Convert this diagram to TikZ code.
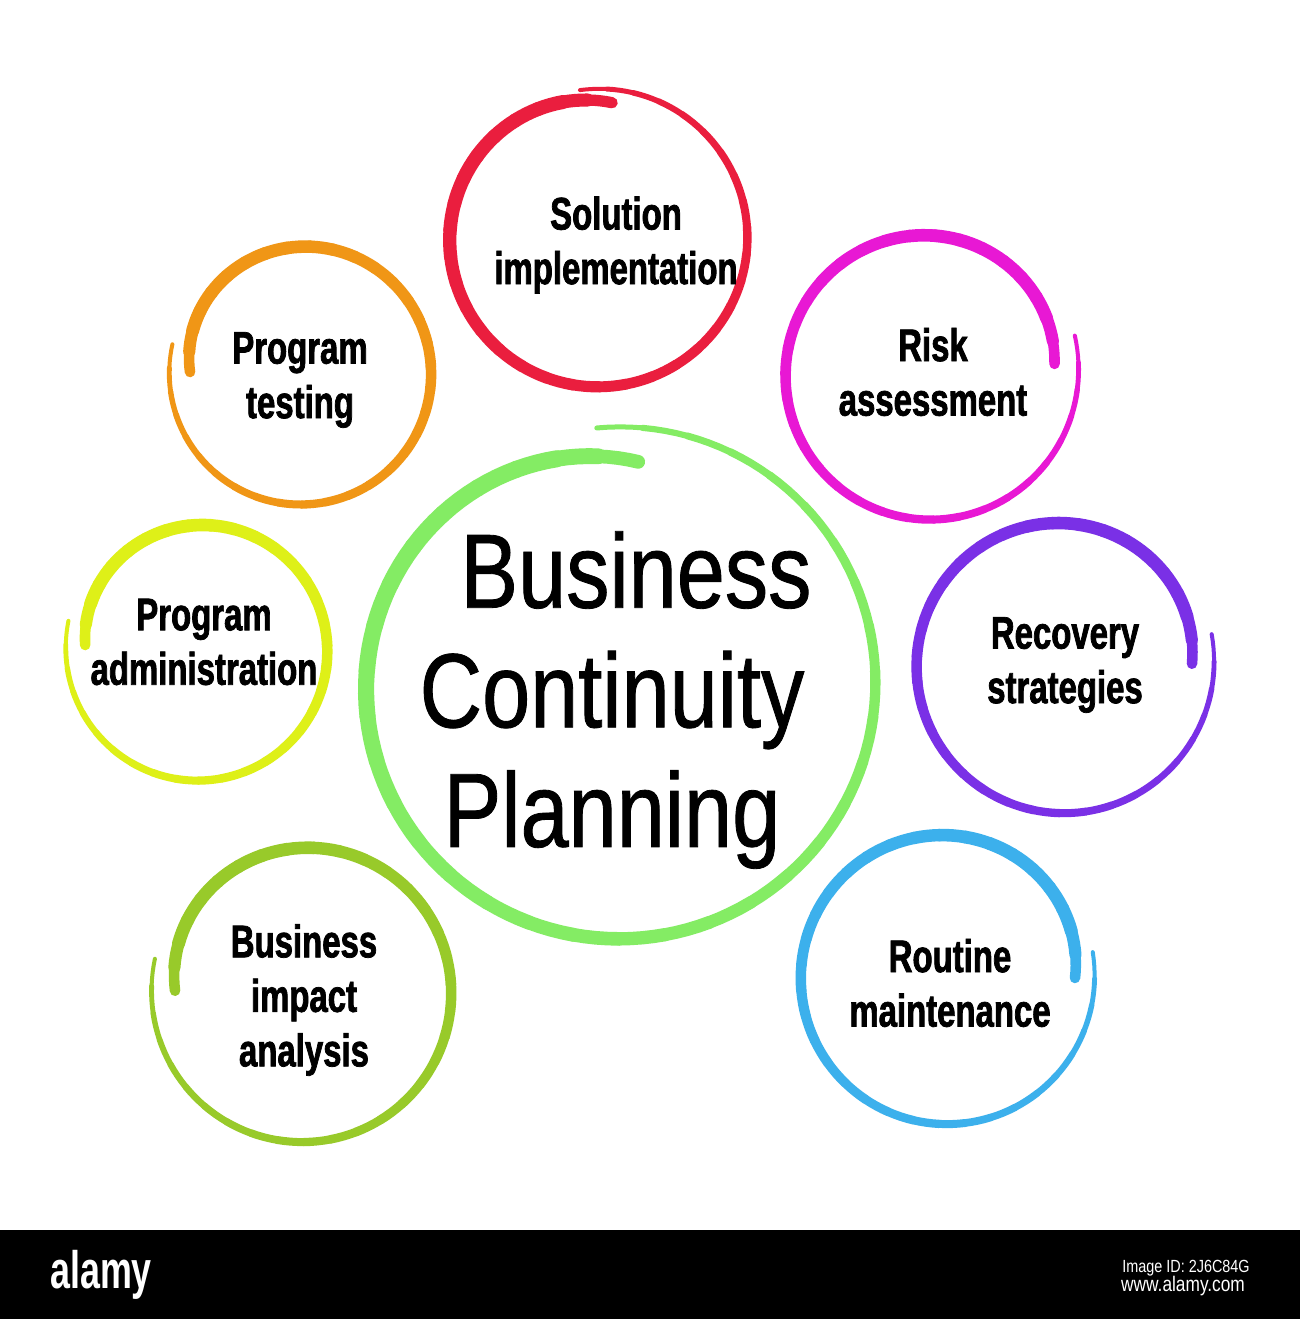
\documentclass[tikz,border=0pt]{standalone}
\usepackage{fontspec}
\setmainfont{Liberation Sans}
\newfontfamily\labelfont{Liberation Sans}[FakeStretch=0.72,FakeBold=1.6]
\newfontfamily\titlefont{Liberation Sans}[FakeStretch=0.82,FakeBold=0.8]
\newfontfamily\markfont{Liberation Sans}[FakeStretch=0.68]
\newfontfamily\smallfont{Liberation Sans}[FakeStretch=0.82]
\definecolor{ringgreen}{RGB}{132,236,100}
\definecolor{ringred}{RGB}{234,30,62}
\definecolor{ringmagenta}{RGB}{232,24,212}
\definecolor{ringpurple}{RGB}{122,48,230}
\definecolor{ringblue}{RGB}{60,176,236}
\definecolor{ringorange}{RGB}{240,150,22}
\definecolor{ringyellow}{RGB}{222,240,24}
\definecolor{ringlime}{RGB}{152,202,42}
\tikzset{
  ringtext/.style={font=\labelfont\bfseries\fontsize{13}{15.5}\selectfont,align=center,inner sep=0pt},
  titletext/.style={font=\titlefont\fontsize{30}{34}\selectfont,align=center,inner sep=0pt},
  marktext/.style={text=white,inner sep=0pt}
}
\begin{document}
\begin{tikzpicture}[x=0.01cm,y=0.01cm]
  \fill[white] (0,0) rectangle (1300,1319);
  \useasboundingbox (0,0) rectangle (1300,1319);
  % hand drawn rings: centre / radius / start offset / end shrink / start angle / sweep / widths / colour
  \foreach \cx/\cy/\R/\e/\d/\a/\s/\wa/\wb/\col in {
    619/637/257/-2/36/95/-370/5/17/ringgreen,
    598/1082/150/-2/15/97/-373/4/14/ringred,
    928/944/142/10/15/15/-370/4/13/ringmagenta,
    1062/653/145/8/15/12/-371/4/13/ringpurple,
    946/341/145/4/16/10/-370/4/13/ringblue,
    301/945/130/2/19/167/372/4/13/ringorange,
    199/668/128/6/14/167/370/4/13/ringyellow,
    303/326/148/4/20/167/372/4/13/ringlime}{
    \foreach \i in {0,...,35}{
      \pgfmathsetmacro\ua{\i/36}
      \pgfmathsetmacro\ub{(\i+1)/36}
      \pgfmathsetmacro\w{0.2845*(\wa+(\wb-\wa)*min(1,\ua/0.8)^0.7-(\wb-\wa)*0.45*max(0,(\ua-0.93)/0.07))}
      \draw[color=\col,line width=\w pt,line cap=round,variable=\t,domain=\ua:\ub,samples=5]
        plot ({\cx+(\R+(\e)*(1-\t)^4-(\d)*max(0,(\t-0.5)/0.5)^3)*cos(\a+(\s)*\t)},
              {\cy+(\R+(\e)*(1-\t)^4-(\d)*max(0,(\t-0.5)/0.5)^3)*sin(\a+(\s)*\t)});
    }
  }
  % texts
  \node[titletext] (bcp) at (612,619) {\hspace*{13.6pt}Business\\Continuity\\Planning};
  \node[ringtext] (solution) at (616,1074) {Solution\\implementation};
  \node[ringtext] (risk) at (933,947) {Risk\\assessment};
  \node[ringtext] (recovery) at (1065,654) {Recovery\\strategies};
  \node[ringtext] (routine) at (950,336) {Routine\\maintenance};
  \node[ringtext] (testing) at (300,939) {Program\\testing};
  \node[ringtext] (admin) at (204,677) {Program\\administration};
  \node[ringtext] (impact) at (304,319) {Business\\impact\\analysis};
  % bottom bar
  \fill[black] (0,0) rectangle (1300,89);
  \node[marktext,font=\markfont\bfseries\fontsize{15}{18}\selectfont] (alamy) at (101,44) {alamy};
  \node[marktext,font=\smallfont\fontsize{5}{6}\selectfont] (imageid) at (1186,51) {Image ID: 2J6C84G};
  \node[marktext,font=\smallfont\fontsize{6}{7}\selectfont] (web) at (1183,33) {www.alamy.com};
\end{tikzpicture}
\end{document}
